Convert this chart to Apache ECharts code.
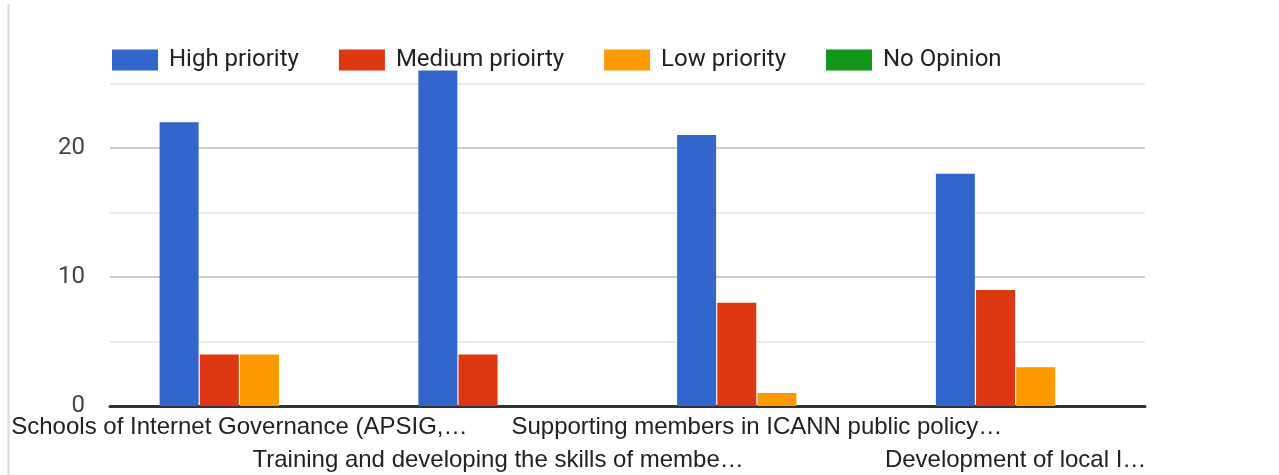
<!DOCTYPE html>
<html>
<head>
<meta charset="utf-8">
<script src="https://cdn.jsdelivr.net/npm/echarts@6/dist/echarts.min.js"></script>
<style>
html,body{margin:0;padding:0;background:#fff;}
#border{position:absolute;left:7px;top:4px;width:3px;height:471px;background:linear-gradient(to right,#f3f3f3,#dcdcdc,#f0f0f0);}
#chart{position:absolute;left:0;top:0;width:1279px;height:475px;}
</style>
</head>
<body>
<div id="border"></div>
<div id="chart"></div>
<script>
const categories = [
  "Schools of Internet Governance (APSIG,\u2026",
  "Training and developing the skills of membe\u2026",
  "Supporting members in ICANN public policy\u2026",
  "Development of local I\u2026"
];
const seriesNames = ["High priority", "Medium prioirty", "Low priority", "No Opinion"];
const highPriority = [22, 26, 21, 18];
const mediumPriority = [4, 4, 8, 9];
const lowPriority = [4, 0, 1, 3];
const noOpinion = [0, 0, 0, 0];
const yTicks = [0, 10, 20];

const colors = ['#3366cc', '#dc3912', '#ff9900', '#109618'];
const values = [highPriority, mediumPriority, lowPriority, noOpinion];

const chart = echarts.init(document.getElementById('chart'), null, {renderer: 'canvas'});
const font = 'Roboto, Arial, "Liberation Sans", sans-serif';
const xfont = '"Liberation Sans", Arial, sans-serif';
chart.setOption({
  animation: false,
  color: colors,
  legend: {
    left: 107, top: 43,
    itemWidth: 46, itemHeight: 21, itemGap: 40,
    icon: 'rect',
    textStyle: {fontSize: 24, color: '#222', fontFamily: font, padding: [0, 0, 0, 6]},
    data: seriesNames
  },
  grid: {left: 110, right: 134, top: 70.6, bottom: 69, containLabel: false, outerBoundsMode: 'none'},
  xAxis: {
    type: 'category',
    data: categories,
    axisLine: {lineStyle: {color: '#333', width: 3}},
    axisTick: {show: false},
    axisLabel: {
      interval: 0, fontSize: 24, color: '#222', fontFamily: xfont, margin: 5,
      lineHeight: 33,
      formatter: function (v, i) { return i % 2 === 1 ? '\n' + v : v; }
    }
  },
  yAxis: {
    type: 'value', min: 0, max: 26, interval: 5,
    axisLine: {show: false}, axisTick: {show: false},
    axisLabel: {
      fontSize: 24, color: '#444', fontFamily: font, margin: 25,
      formatter: function (v) { return yTicks.indexOf(v) >= 0 ? String(v) : ''; }
    },
    splitLine: {
      showMaxLine: false,
      lineStyle: {width: 2, color: ['#cccccc', '#ebebeb']}
    }
  },
  series: values.map(function (d, i) {
    return {
      name: seriesNames[i], type: 'bar', data: d,
      barWidth: 39, barGap: '3%'
    };
  })
});
</script>
</body>
</html>
